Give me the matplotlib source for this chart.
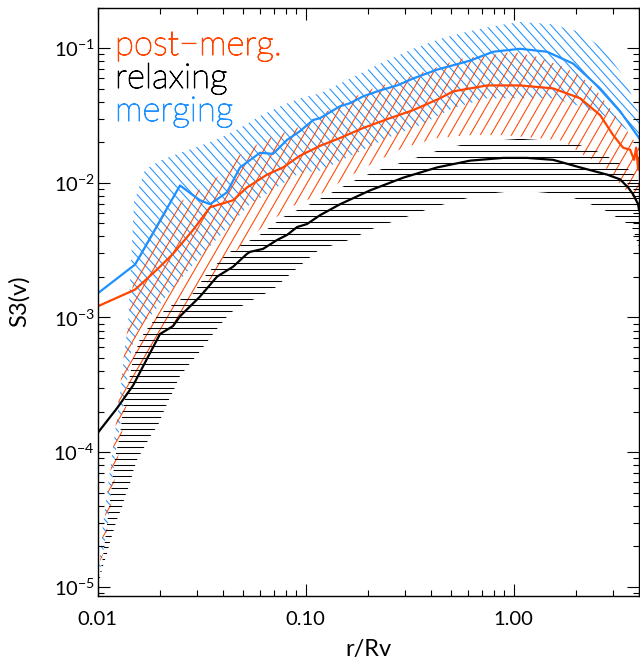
import numpy as np
import matplotlib
matplotlib.use("Agg")
import matplotlib.pyplot as plt
import matplotlib.patheffects as pe
from matplotlib.collections import LineCollection
from matplotlib.transforms import IdentityTransform
from matplotlib.ticker import FixedLocator, LogLocator, NullFormatter, FixedFormatter

# ---- median curves (r/Rv, S3) ----
r_merg = [0.0100, 0.01511, 0.02486, 0.03102, 0.03466, 0.04182, 0.04830, 0.06029, 0.06963,
          0.08129, 0.09389, 0.1084, 0.1172, 0.1462, 0.1633, 0.1886, 0.2276, 0.2748, 0.3280,
          0.4278, 0.6164, 0.7953, 1.072, 1.446, 1.928, 2.600, 3.243, 4.0]
s_merg = [0.00151, 0.00247, 0.00955, 0.00741, 0.00693, 0.00849, 0.0130, 0.0167, 0.0164,
          0.0208, 0.0242, 0.0292, 0.0302, 0.0370, 0.0390, 0.0438, 0.0485, 0.0528, 0.0594,
          0.0692, 0.0807, 0.0939, 0.0988, 0.0939, 0.0767, 0.0502, 0.0340, 0.0215]

r_post = [0.0100, 0.01511, 0.01928, 0.02301, 0.02872, 0.03466, 0.04470, 0.05220, 0.06516,
          0.07777, 0.09389, 0.1172, 0.1462, 0.1886, 0.2542, 0.3280, 0.4422, 0.5107, 0.7441,
          1.072, 1.545, 2.084, 2.600, 3.002, 3.354, 3.624, 3.788, 3.873, 3.959, 4.0]
s_post = [0.00121, 0.00161, 0.00227, 0.00297, 0.00446, 0.00658, 0.00741, 0.00923, 0.0115,
          0.0130, 0.0159, 0.0188, 0.0215, 0.0255, 0.0302, 0.0346, 0.0424, 0.0477, 0.0528,
          0.0528, 0.0502, 0.0424, 0.0318, 0.0226, 0.0182, 0.0176, 0.0148, 0.0182, 0.0125, 0.0153]

r_relax = [0.0100, 0.01238, 0.01479, 0.01726, 0.01993, 0.02301, 0.02486, 0.03102, 0.03746,
           0.04470, 0.05220, 0.05396, 0.06232, 0.07278, 0.08129, 0.09082, 0.1014, 0.1172,
           0.1462, 0.2037, 0.2936, 0.4278, 0.6164, 0.8884, 1.158, 1.545, 2.084, 2.810,
           3.243, 3.544, 3.747, 3.959, 4.0]
s_relax = [0.000139, 0.000212, 0.000313, 0.000494, 0.000754, 0.000863, 0.00102, 0.00143,
           0.00201, 0.00238, 0.00297, 0.00307, 0.00323, 0.00376, 0.00410, 0.00469, 0.00494,
           0.00575, 0.00693, 0.00878, 0.0109, 0.0130, 0.0146, 0.0153, 0.0153, 0.0148, 0.0130,
           0.0115, 0.0106, 0.00923, 0.00820, 0.00693, 0.00626]

# ---- scatter bands: upper and lower edges, each left to right ----
merg_up_r = [0.0100, 0.0106, 0.01172, 0.01280, 0.01352, 0.01398, 0.01494, 0.01688, 0.01993,
             0.02486, 0.03102, 0.03873, 0.04830, 0.06029, 0.07523, 0.09389, 0.1172, 0.1633,
             0.2276, 0.3280, 0.4422, 0.6164, 0.8592, 1.072, 1.494, 2.084, 2.688, 3.243, 3.747, 4.0]
merg_up_s = [1.06e-5, 2.92e-5, 9.55e-5, 2.64e-4, 6.15e-4, 8.63e-4, 0.00717, 0.0125, 0.0146,
             0.0167, 0.0188, 0.0215, 0.0255, 0.0313, 0.0370, 0.0424, 0.0461, 0.0594,
             0.0767, 0.0988, 0.1171, 0.1340, 0.1484, 0.1561, 0.1509, 0.1318, 0.0988, 0.0669, 0.0424, 0.0318]
merg_lo_r = [0.0100, 0.0112, 0.01211, 0.01352, 0.01462, 0.01597, 0.01784, 0.02227, 0.03102,
             0.05396, 0.09389, 0.1172, 0.1688, 0.2459, 0.3544, 0.5107, 0.7441, 1.072, 1.545,
             2.015, 2.688, 3.243, 4.0]
merg_lo_s = [1.06e-5, 2.92e-5, 9.55e-5, 2.64e-4, 6.15e-4, 8.63e-4, 0.00102, 0.00156, 0.00282,
             0.00693, 0.0119, 0.0123, 0.0161, 0.0215, 0.0268, 0.0358, 0.0424, 0.0424, 0.0424,
             0.0376, 0.0318, 0.0268, 0.0215]

post_up_r = [0.0100, 0.01072, 0.01172, 0.01266, 0.01352, 0.01398, 0.01446, 0.01494, 0.01597,
             0.01784, 0.02107, 0.02687, 0.03390, 0.03873, 0.04325, 0.05220, 0.06232, 0.07278,
             0.09082, 0.1172, 0.1579, 0.2106, 0.3280, 0.4093, 0.5518, 0.7441, 0.9922, 1.294,
             1.670, 2.084, 2.515, 2.904, 3.505, 4.0]
post_up_s = [1.06e-5, 2.92e-5, 9.08e-5, 2.64e-4, 6.15e-4, 8.63e-4, 0.00132, 0.00219, 0.00364,
             0.00485, 0.00605, 0.00780, 0.00972, 0.0115, 0.0146, 0.0173, 0.0205, 0.0226,
             0.0255, 0.0318, 0.0410, 0.0502, 0.0626, 0.0704, 0.0834, 0.0878, 0.0939, 0.0863,
             0.0741, 0.0626, 0.0477, 0.0358, 0.0242, 0.0182]
post_lo_r = [0.0100, 0.0112, 0.01252, 0.01398, 0.01688, 0.01928, 0.02227, 0.03102, 0.04325,
             0.06029, 0.08403, 0.1172, 0.1579, 0.2037, 0.2936, 0.4278, 0.6164, 0.8884, 1.294,
             1.726, 2.154, 2.688, 3.243, 3.747, 4.0]
post_lo_s = [1.06e-5, 2.92e-5, 9.08e-5, 2.64e-4, 4.77e-4, 6.15e-4, 8.20e-4, 0.00156, 0.00282,
             0.00453, 0.00658, 0.00820, 0.0109, 0.0136, 0.0182, 0.0215, 0.0226, 0.0226, 0.0215,
             0.0205, 0.0161, 0.0136, 0.00972, 0.00780, 0.00693]

relax_up_r = [0.0100, 0.01026, 0.0106, 0.01108, 0.01172, 0.01211, 0.01280, 0.01324, 0.01398,
              0.01479, 0.01597, 0.01726, 0.01928, 0.02404, 0.02872, 0.03102, 0.03353, 0.03746,
              0.04182, 0.04994, 0.05832, 0.06736, 0.07777, 0.09082, 0.1049, 0.1579, 0.1824,
              0.2202, 0.2600, 0.3172, 0.3830, 0.4832, 0.6516, 1.072, 1.845, 2.276, 2.688,
              3.002, 3.354, 3.624, 3.916, 4.0]
relax_up_s = [1.06e-5, 1.25e-5, 1.67e-5, 2.92e-5, 5.75e-5, 9.08e-5, 1.34e-4, 2.12e-4, 3.13e-4,
              4.94e-4, 6.92e-4, 8.20e-4, 0.00102, 0.00132, 0.00151, 0.00179, 0.00212, 0.00251,
              0.00297, 0.00352, 0.00396, 0.00469, 0.00556, 0.00626, 0.00693, 0.00972, 0.0109,
              0.0123, 0.0134, 0.0148, 0.0164, 0.0182, 0.0201, 0.0212, 0.0201, 0.0182, 0.0164,
              0.0148, 0.0134, 0.0123, 0.0109, 0.01005]
relax_lo_r = [0.0100, 0.01026, 0.0106, 0.01108, 0.01146, 0.01238, 0.01309, 0.01352, 0.01429,
              0.01479, 0.01545, 0.01669, 0.01784, 0.01950, 0.0206, 0.02178, 0.02327, 0.02459,
              0.02717, 0.03035, 0.03353, 0.03704, 0.04325, 0.05396, 0.06963, 0.08690, 0.1014,
              0.1172, 0.1528, 0.1784, 0.2015, 0.2352, 0.2840, 0.3428, 0.4093, 0.5222, 0.7040,
              1.072, 1.726, 2.154, 2.688, 3.173, 3.544, 3.747, 3.916, 4.0]
relax_lo_s = [1.06e-5, 1.17e-5, 1.43e-5, 1.76e-5, 2.15e-5, 3.18e-5, 3.90e-5, 4.69e-5, 5.85e-5,
              7.17e-5, 8.78e-5, 1.08e-4, 1.30e-4, 1.59e-4, 1.95e-4, 2.38e-4, 2.92e-4, 3.58e-4,
              4.38e-4, 5.37e-4, 6.58e-4, 8.06e-4, 0.00108, 0.00132, 0.00161, 0.00219, 0.00268,
              0.00323, 0.00364, 0.00403, 0.00446, 0.00485, 0.00537, 0.00595, 0.00658, 0.00729,
              0.00820, 0.00878, 0.00820, 0.00729, 0.00636, 0.00546, 0.00494, 0.00453, 0.00364, 0.00334]

BLUE = "#1e90ff"
RED = "#ff4500"

plt.rcParams.update({
    "font.family": ["Lato", "DejaVu Sans"],
    "mathtext.default": "regular",
})

fig = plt.figure(figsize=(6.4, 6.61), dpi=100)
ax = fig.add_axes([0.1527, 0.0988, 0.8458, 0.8898])
ax.set_xscale("log")
ax.set_yscale("log")
ax.set_xlim(0.01, 4.0)
ax.set_ylim(8.6e-6, 0.2)


def band(up_r, up_s, lo_r, lo_s):
    xs = np.r_[up_r, lo_r[::-1]]
    ys = np.r_[up_s, lo_s[::-1]]
    return ax.fill(xs, ys, facecolor="none", edgecolor="none")[0]


def line_fill(poly, angle, spacing, color, phase=0.0, z=1, lw=0.75):
    # IDL-style line fill: parallel lines in device pixels, clipped to the band
    bb = ax.bbox
    th = np.deg2rad(angle)
    d = np.array([np.cos(th), np.sin(th)])
    n = np.array([-np.sin(th), np.cos(th)])
    corners = np.array([[bb.x0, bb.y0], [bb.x1, bb.y0], [bb.x0, bb.y1], [bb.x1, bb.y1]])
    proj = corners @ n
    L = np.hypot(bb.width, bb.height)
    ctr = corners.mean(axis=0)
    start = np.floor((proj.min() - phase) / spacing) * spacing + phase
    segs = []
    for c in np.arange(start, proj.max() + spacing, spacing):
        base = c * n + (ctr @ d) * d
        segs.append([base - L * d, base + L * d])
    lc = LineCollection(segs, colors=color, linewidths=lw,
                        transform=IdentityTransform(), zorder=z)
    lc.set_clip_path(poly)
    ax.add_collection(lc, autolim=False)


p_merg = band(merg_up_r, merg_up_s, merg_lo_r, merg_lo_s)
p_post = band(post_up_r, post_up_s, post_lo_r, post_lo_s)
p_relax = band(relax_up_r, relax_up_s, relax_lo_r, relax_lo_s)

line_fill(p_merg, -48, 6.9, BLUE, z=1.0)
line_fill(p_post, 60, 9.0, RED, z=1.1)
line_fill(p_relax, 0, 5.92, "black", phase=326.7 % 5.92, z=1.2)

ax.plot(r_merg, s_merg, color=BLUE, lw=1.6, zorder=2.0)
ax.plot(r_post, s_post, color=RED, lw=1.6, zorder=2.1)
ax.plot(r_relax, s_relax, color="black", lw=1.6, zorder=2.2)

# axes styling, IDL-like: ticks inward on all sides
ax.xaxis.set_major_locator(FixedLocator([0.01, 0.1, 1.0]))
ax.xaxis.set_major_formatter(FixedFormatter(["0.01", "0.10", "1.00"]))
ax.xaxis.set_minor_locator(LogLocator(base=10, subs=np.arange(2, 10), numticks=20))
ax.xaxis.set_minor_formatter(NullFormatter())
ax.yaxis.set_major_locator(LogLocator(base=10, numticks=20))
ax.yaxis.set_minor_locator(LogLocator(base=10, subs=np.arange(2, 10), numticks=20))
ax.yaxis.set_minor_formatter(NullFormatter())
ax.tick_params(which="both", direction="in", top=True, right=True, width=0.8, colors="black")
ax.tick_params(which="major", length=8.5, labelsize=14.5)
ax.tick_params(which="minor", length=4.3)
ax.tick_params(axis="x", which="major", pad=11)
ax.tick_params(axis="y", which="major", pad=2)
for sp in ax.spines.values():
    sp.set_linewidth(1.0)

ax.set_xlabel("r/Rv", fontsize=17, labelpad=8)
ax.set_ylabel("S3(v)", fontsize=17, labelpad=17)

legend_items = [("post\u2212merg.", RED, 0.9192),
                ("relaxing", "black", 0.8631),
                ("merging", BLUE, 0.8070)]
for label, col, yb in legend_items:
    ax.text(0.032, yb, label, color=col, fontsize=25, fontweight="light",
            transform=ax.transAxes, va="baseline", ha="left",
            path_effects=[pe.withStroke(linewidth=0.7, foreground=col)])

fig.savefig("out.png", dpi=100)
